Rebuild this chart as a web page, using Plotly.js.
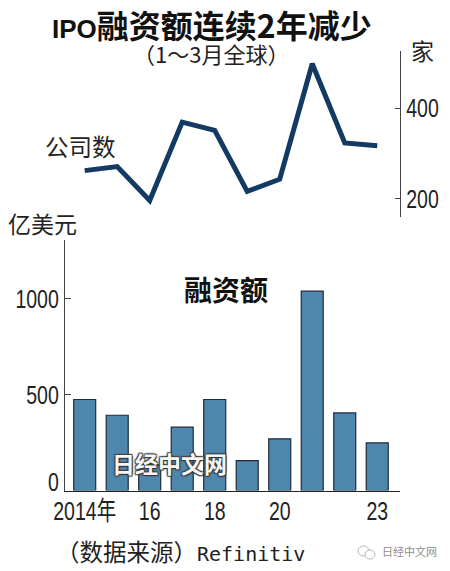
<!DOCTYPE html>
<html><head><meta charset="utf-8">
<script src="https://cdn.plot.ly/plotly-3.0.0.min.js"></script>
<style>html,body{margin:0;padding:0;background:#fff}#c{width:450px;height:571px}</style>
</head><body><div id="c"></div>
<script>
const years = ['2014','2015','2016','2017','2018','2019','2020','2021','2022','2023'];
const companies = [262,271,196,369,351,216,243,498,323,317];
const funding = [474,392,135,330,474,156,269,1038,404,248];
const xTickVals = ['2014','2016','2018','2020','2023'];
const xTickText = ['2014年','16','18','20','23'];
const cjk = '"Noto Sans CJK SC","Noto Sans CJK JP",sans-serif';
const mono = '"DejaVu Sans Mono","Noto Sans CJK SC",monospace';
const tickFam = '"Liberation Sans","Noto Sans CJK SC",sans-serif';
const H = 571;
const dom = (top,bot)=>[1-bot/H,1-top/H];
const ink = '#222222';
const traces = [
 {type:'bar',x:years,y:funding,xaxis:'x',yaxis:'y',width:0.677,
  marker:{color:'#4f86ad',line:{color:'#1d2b38',width:1.2}},hoverinfo:'skip'},
 {type:'scatter',mode:'lines',x:years,y:companies,xaxis:'x2',yaxis:'y2',
  line:{color:'#123a63',width:5,shape:'linear'},hoverinfo:'skip'}
];
const txt=(x,y,text,size,extra={})=>Object.assign({xref:'paper',yref:'paper',x:x/450,y:1-y/H,text,showarrow:false,
  font:{family:cjk,size,color:ink},xanchor:'center',yanchor:'middle'},extra);
const layout = {
 width:450,height:H,margin:{l:0,r:0,t:0,b:0},paper_bgcolor:'#ffffff',plot_bgcolor:'rgba(0,0,0,0)',showlegend:false,
 xaxis:{type:'category',domain:[65/450,400/450],range:[-0.606,9.70],anchor:'y',showgrid:false,zeroline:false,
   showline:true,linecolor:ink,linewidth:1.6,ticks:'',tickmode:'array',tickvals:xTickVals,ticktext:xTickText,
   tickfont:{family:tickFam,size:26,color:ink}},
 yaxis:{domain:dom(240,490.5),range:[0,1304.7],anchor:'x',side:'left',showgrid:false,zeroline:false,
   showline:true,linecolor:'#444444',linewidth:1,ticks:'inside',ticklen:6,tickcolor:'#444444',
   tickmode:'array',tickvals:[0,500,1000],ticktext:['0','500','1000'],
   tickfont:{family:tickFam,size:26,color:ink}},
 xaxis2:{type:'category',domain:[65/450,400/450],range:[-0.606,9.70],anchor:'y2',visible:false,categoryorder:'array',categoryarray:years},
 yaxis2:{domain:dom(50.7,216.7),range:[160.3,526.7],anchor:'x2',side:'right',
   showgrid:false,zeroline:false,showline:true,linecolor:'#444444',linewidth:1,ticks:'inside',ticklen:5,tickcolor:'#444444',
   tickmode:'array',tickvals:[200,400],ticktext:['200','400'],
   tickfont:{family:tickFam,size:26,color:ink}},
 annotations:[
  txt(212,24,'<span style="font-size:26px;font-family:\'Liberation Sans\'">IPO</span>融资额连续2年减少',32,{font:{family:cjk,size:32,color:'#111111',weight:700}}),
  txt(211,53,'（1～3月全球）',22),
  txt(422,50,'家',23),
  txt(80,145.5,'公司数',23.5),
  txt(42,222.5,'亿美元',23),
  txt(226,288.5,'融资额',28,{font:{family:cjk,size:28,color:'#111111',weight:700}}),
  txt(169,463,'日经中文网',23,{font:{family:cjk,size:23,color:'#f6f6f6',weight:700,
     shadow:'1px 1px 1px #333, -1px -1px 1px #444, 1px -1px 1px #444, -1px 1px 1px #444'}}),
  txt(180.5,553,'（数据来源）<span style="font-size:20px">Refinitiv</span>',23.5,{font:{family:mono,size:23.5,color:ink}}),
  txt(409,551,'日经中文网',11,{font:{family:cjk,size:11,color:'#8f8f8f'}})
 ],
 shapes:[
  {type:'circle',xref:'paper',yref:'paper',x0:358/450,x1:369/450,y0:1-556/H,y1:1-546/H,line:{color:'#b5b5b5',width:1}},
  {type:'circle',xref:'paper',yref:'paper',x0:365/450,x1:375/450,y0:1-559/H,y1:1-550/H,line:{color:'#b5b5b5',width:1},fillcolor:'#ffffff'}
 ]
};
Plotly.newPlot('c',traces,layout,{displayModeBar:false,staticPlot:true}).then(gd=>{
  const condense=(t,dy)=>{
    const w=t.getComputedTextLength();
    t.setAttribute('textLength',w*0.75);
    t.setAttribute('lengthAdjust','spacingAndGlyphs');
    if(dy){const tr=t.getAttribute('transform')||'';t.setAttribute('transform','translate(0,'+dy+') '+tr);}
  };
  gd.querySelectorAll('.xtick text').forEach(t=>condense(t,-3));
  gd.querySelectorAll('.ytick text').forEach(t=>condense(t,t.textContent==='0'?-9:0));
  gd.querySelectorAll('.y2tick text').forEach(t=>condense(t,0));
});
</script></body></html>
